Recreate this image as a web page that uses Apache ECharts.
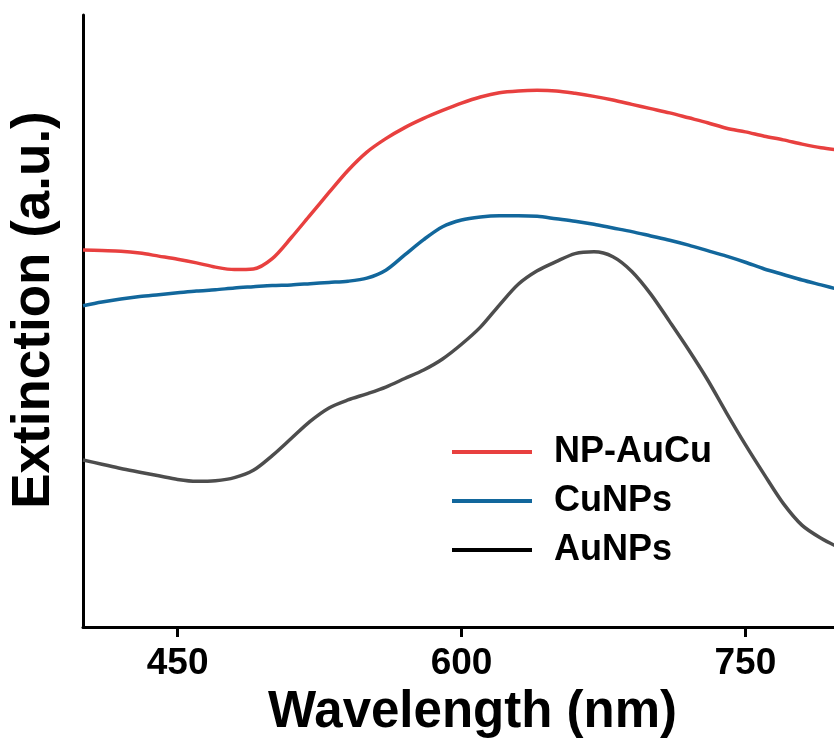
<!DOCTYPE html>
<html>
<head>
<meta charset="utf-8">
<script src="https://cdn.jsdelivr.net/npm/echarts@6/dist/echarts.min.js"></script>
<style>
  html, body { margin: 0; padding: 0; background: #fff; }
  #chart { width: 834px; height: 742px; }
</style>
</head>
<body>
<div id="chart"></div>
<script>
// Extinction spectra, arbitrary units on a 0-100 scale, sampled every 10 nm
const seriesNames = ['NP-AuCu', 'CuNPs', 'AuNPs'];
const xTicks = [450, 600, 750];

const wavelength = [400, 410, 420, 430, 440, 450, 460, 470, 480, 490,
                    500, 510, 520, 530, 540, 550, 560, 570, 580, 590,
                    600, 610, 620, 630, 640, 650, 660, 670, 680, 690,
                    700, 710, 720, 730, 740, 750, 760, 770, 780, 790, 800];

const npAuCu = [61.6, 61.5, 61.4, 61.1, 60.6, 60.1, 59.5, 58.8, 58.4, 58.5,
                60.2, 63.6, 67.3, 71.0, 74.6, 77.6, 79.8, 81.6, 83.1, 84.4,
                85.6, 86.6, 87.3, 87.6, 87.7, 87.6, 87.2, 86.7, 86.1, 85.4,
                84.7, 84.0, 83.2, 82.4, 81.5, 80.9, 80.2, 79.6, 78.9, 78.3, 77.9];

const cuNPs = [52.5, 53.1, 53.6, 54.0, 54.3, 54.6, 54.9, 55.1, 55.4, 55.6,
               55.8, 55.9, 56.1, 56.3, 56.5, 57.0, 58.3, 60.8, 63.3, 65.4,
               66.5, 67.0, 67.2, 67.2, 67.1, 66.7, 66.3, 65.8, 65.2, 64.6,
               63.9, 63.2, 62.4, 61.5, 60.6, 59.6, 58.5, 57.6, 56.7, 55.9, 55.1];

const auNPs = [27.3, 26.6, 25.9, 25.3, 24.7, 24.1, 23.8, 23.9, 24.4, 25.6,
               28.0, 30.8, 33.6, 35.8, 37.1, 38.1, 39.2, 40.6, 42.0, 43.8,
               46.2, 49.0, 52.6, 56.0, 58.2, 59.7, 61.0, 61.3, 60.5, 58.1,
               54.4, 49.9, 45.3, 40.4, 35.0, 29.8, 24.9, 20.2, 16.6, 14.5, 12.9];

const colors = ['#e8403f', '#12679c', '#4d4d4d'];
const FONT = '"Liberation Sans", Arial, sans-serif';

function pairs(xs, ys) { return xs.map((x, i) => [x, ys[i]]); }

const chart = echarts.init(document.getElementById('chart'), null, { renderer: 'canvas' });

function lineSeries(name, values, color) {
  return {
    name: name,
    type: 'line',
    data: pairs(wavelength, values),
    showSymbol: false,
    smooth: 0.3,
    color: color,
    lineStyle: { width: 3.5 }
  };
}

chart.setOption({
  backgroundColor: '#ffffff',
  animation: false,
  grid: { left: 83, right: -6, top: 15, bottom: 115, containLabel: false, outerBoundsMode: 'none' },
  legend: {
    orient: 'vertical',
    left: 447,
    top: 427,
    icon: 'rect',
    itemWidth: 80,
    itemHeight: 4,
    itemGap: 9,
    textStyle: {
      fontFamily: FONT, fontWeight: 'bold', fontSize: 36, color: '#000',
      lineHeight: 40, padding: [0, 0, 0, 17]
    },
    data: [
      { name: 'NP-AuCu' },
      { name: 'CuNPs' },
      { name: 'AuNPs', itemStyle: { color: '#000' } }
    ]
  },
  xAxis: {
    type: 'value',
    min: 400,
    max: 800,
    name: 'Wavelength (nm)',
    nameLocation: 'middle',
    nameGap: 60,
    nameTextStyle: { fontFamily: FONT, fontWeight: 'bold', fontSize: 51, color: '#000', padding: [0, 0, 0, 22] },
    axisLine: { show: true, onZero: false, lineStyle: { color: '#000', width: 3 } },
    axisTick: { show: true, length: 10, lineStyle: { color: '#000', width: 3 }, customValues: xTicks },
    axisLabel: { fontFamily: FONT, fontWeight: 'bold', fontSize: 37, color: '#000', margin: 18, customValues: xTicks },
    splitLine: { show: false }
  },
  yAxis: {
    type: 'value',
    min: 0,
    max: 100,
    name: 'Extinction (a.u.)',
    nameLocation: 'middle',
    nameGap: 22,
    nameRotate: 90,
    nameTextStyle: { fontFamily: FONT, fontWeight: 'bold', fontSize: 53, color: '#000', padding: [0, 0, 0, 22] },
    axisLine: { show: true, lineStyle: { color: '#000', width: 3 } },
    axisTick: { show: false },
    axisLabel: { show: false },
    splitLine: { show: false }
  },
  series: [
    lineSeries(seriesNames[0], npAuCu, colors[0]),
    lineSeries(seriesNames[1], cuNPs, colors[1]),
    lineSeries(seriesNames[2], auNPs, colors[2])
  ]
});
</script>
</body>
</html>
